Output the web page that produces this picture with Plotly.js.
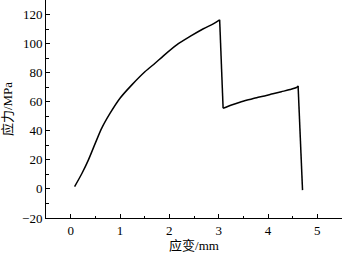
<!DOCTYPE html>
<html>
<head>
<meta charset="utf-8">
<script src="https://cdn.plot.ly/plotly-3.0.1.min.js"></script>
<style>html,body{margin:0;padding:0;background:#fff;}#chart{width:343px;height:255px;}</style>
</head>
<body>
<div id="chart"></div>
<script>
const strain = [0.08, 0.23, 0.36, 0.50, 0.63, 0.80, 1.00, 1.24, 1.51, 1.71, 1.88, 2.15, 2.42, 2.69, 2.89, 3.02, 3.09, 3.26, 3.43, 3.60, 3.77, 3.93, 4.10, 4.27, 4.45, 4.59, 4.61, 4.69, 4.70];
const stress = [1.6, 10.8, 20.0, 31.5, 41.8, 52.1, 62.4, 71.6, 80.8, 86.5, 91.6, 99.1, 104.9, 110.2, 113.6, 116.4, 55.5, 57.8, 59.7, 61.3, 62.8, 64.0, 65.5, 66.9, 68.4, 70.0, 70.9, 0.2, -0.8];

const xTitle = '应变/mm';
const yTitle = '应力/MPa';

const fontFam = '"Liberation Serif", "Times New Roman", "Noto Sans CJK SC", serif';

// smooth parts drawn as splines, the sudden drops as straight segments
const peak1 = 15, valley = 16, peak2 = 26;
function seg(a, b, shape) {
  return {
    x: strain.slice(a, b + 1), y: stress.slice(a, b + 1),
    type: 'scatter', mode: 'lines', showlegend: false,
    line: {color: '#000', width: 1.5, shape: shape, smoothing: 0.8}
  };
}
const traces = [
  seg(0, peak1, 'spline'),
  seg(peak1, valley, 'linear'),
  seg(valley, peak2, 'spline'),
  seg(peak2, strain.length - 1, 'linear')
];

Plotly.newPlot('chart', traces, {
  width: 343, height: 255,
  margin: {l: 46, r: 1, t: 0, b: 37},
  paper_bgcolor: '#fff', plot_bgcolor: '#fff',
  font: {family: fontFam, size: 13, color: '#000'},
  xaxis: {
    range: [-0.5, 5.5], dtick: 1, tick0: 0,
    showgrid: false, zeroline: false, showline: true, linecolor: '#000', linewidth: 1,
    ticks: 'inside', ticklen: 4, tickwidth: 1, tickcolor: '#000',
    minor: {ticks: 'inside', ticklen: 2.5, dtick: 0.5, tickcolor: '#000', showgrid: false},
    title: {text: xTitle, font: {family: fontFam, size: 13}, standoff: 2},
    tickfont: {family: fontFam, size: 13}
  },
  yaxis: {
    range: [-20, 130], dtick: 20, tick0: 0,
    showgrid: false, zeroline: false, showline: true, linecolor: '#000', linewidth: 1,
    ticks: 'inside', ticklen: 4, tickwidth: 1, tickcolor: '#000',
    minor: {ticks: 'inside', ticklen: 2.5, dtick: 10, tickcolor: '#000', showgrid: false},
    title: {text: yTitle, font: {family: fontFam, size: 13}, standoff: 6},
    tickfont: {family: fontFam, size: 13}
  }
}, {staticPlot: true, displayModeBar: false});
</script>
</body>
</html>
